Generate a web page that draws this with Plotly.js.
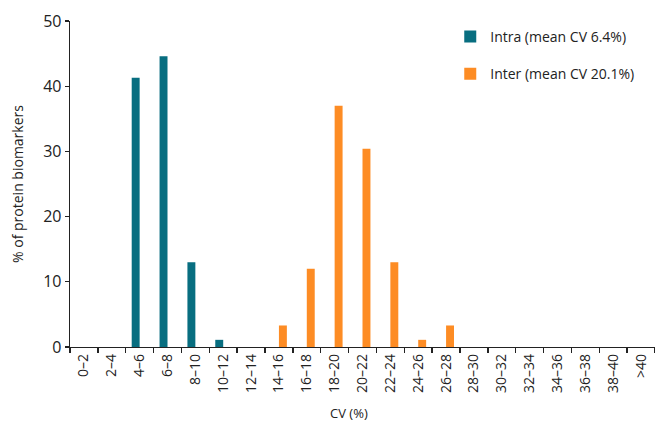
<!DOCTYPE html>
<html>
<head>
<meta charset="utf-8">
<script src="https://cdn.plot.ly/plotly-3.0.1.min.js"></script>
<style>html,body{margin:0;padding:0;background:#fff;}#chart{width:655px;height:425px;}</style>
</head>
<body>
<div id="chart"></div>
<script>
const categories = ["0\u20132","2\u20134","4\u20136","6\u20138","8\u201310","10\u201312","12\u201314","14\u201316","16\u201318","18\u201320","20\u201322","22\u201324","24\u201326","26\u201328","28\u201330","30\u201332","32\u201334","34\u201336","36\u201338","38\u201340",">40"];
const intraValues = [0,0,41.3,44.6,13.0,1.1,0,0,0,0,0,0,0,0,0,0,0,0,0,0,0];
const interValues = [0,0,0,0,0,0,0,3.3,12.0,37.0,30.4,13.0,1.1,3.3,0,0,0,0,0,0,0];
const seriesNames = ["Intra (mean CV 6.4%)","Inter (mean CV 20.1%)"];
const yTicks = [0,10,20,30,40,50];

const FONT = "Open Sans, Noto Sans, sans-serif";
const TXT = "#222";

const traces = [
  {type:"bar", x:categories, y:intraValues, name:seriesNames[0], marker:{color:"#086e80"}, legendgroup:"a", hoverinfo:"none"},
  {type:"bar", x:categories, y:interValues, name:seriesNames[1], marker:{color:"#fd8c24"}, legendgroup:"b", hoverinfo:"none"}
];

const layout = {
  width:655, height:425,
  margin:{l:70, r:0, t:21, b:77.5},
  paper_bgcolor:"#fff", plot_bgcolor:"#fff",
  font:{family:FONT, color:TXT, size:13},
  barmode:"group", bargap:0.43, bargroupgap:0,
  showlegend:true,
  legend:{x:0.65, xanchor:"left", y:1.0, yanchor:"top", font:{size:14, color:TXT}, tracegroupgap:16, bgcolor:"rgba(0,0,0,0)"},
  xaxis:{
    type:"category", range:[-0.5,20.5], tickson:"boundaries",
    showline:true, linecolor:"#222", linewidth:1.3, ticks:"outside", ticklen:5, tickcolor:"#222", tickwidth:1.3,
    tickangle:-90, tickfont:{size:14, color:TXT}, showgrid:false, zeroline:false
  },
  yaxis:{
    range:[0,50], tickvals:yTicks, showline:true, linecolor:"#222", linewidth:1.3, ticks:"outside", ticklen:4, tickcolor:"#222", tickwidth:1.3,
    tickfont:{size:16, color:TXT}, showgrid:false, zeroline:false,
    title:{text:"% of protein biomarkers", font:{size:14, color:TXT}, standoff:16}
  },
  annotations:[
    {text:"CV (%)", xref:"paper", yref:"paper", x:0.477, y:0, yshift:-66, xanchor:"center", yanchor:"middle", showarrow:false, font:{size:13, color:TXT}}
  ]
};

Plotly.newPlot("chart", traces, layout, {staticPlot:true, displayModeBar:false});
</script>
</body>
</html>
